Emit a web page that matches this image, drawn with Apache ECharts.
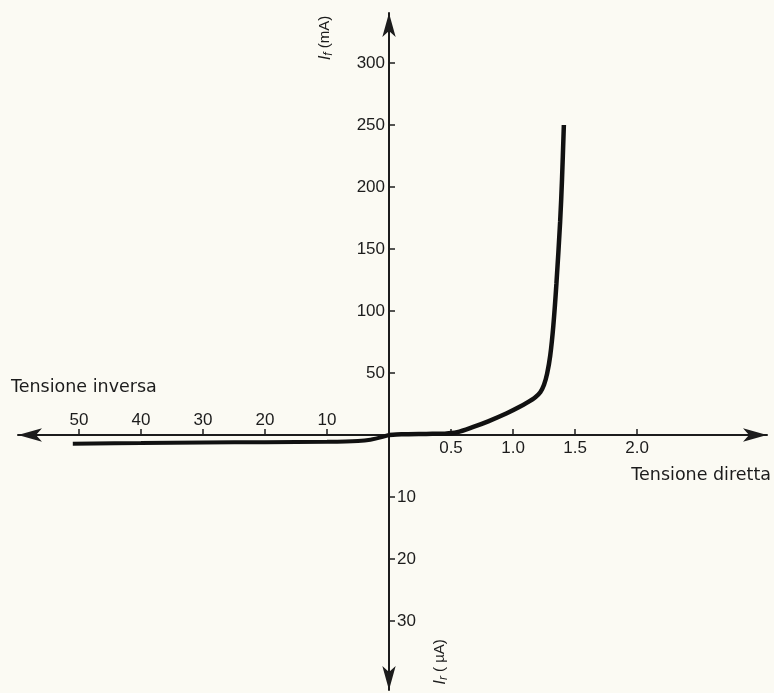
<!DOCTYPE html>
<html>
<head>
<meta charset="utf-8">
<title>Caratteristica del diodo</title>
<script src="https://cdn.jsdelivr.net/npm/echarts@6/dist/echarts.min.js"></script>
<style>
  html, body { margin: 0; padding: 0; background: #fbfaf3; }
  #chart { width: 774px; height: 693px; }
</style>
</head>
<body>
<div id="chart"></div>
<script>
// Forward characteristic: voltage (V) and current (mA)
const forwardVolts = [0, 0.1, 0.3, 0.45, 0.55, 0.68, 0.8, 0.95, 1.05, 1.12, 1.18, 1.22, 1.25, 1.275, 1.3, 1.325, 1.35, 1.38, 1.395, 1.41];
const forwardMilliamps = [0, 0.6, 0.9, 1.1, 2.2, 6.5, 11, 17.5, 22.5, 26.5, 30.5, 34.5, 40.5, 49.5, 64, 88, 122, 172, 206, 250];

// Reverse characteristic: voltage (V) and leakage current (µA)
const reverseVolts = [0, 1, 2, 3, 5, 7, 10, 20, 30, 40, 51];
const reverseMicroamps = [0, 0.3, 0.55, 0.75, 0.95, 1.05, 1.1, 1.15, 1.2, 1.3, 1.4];

// Tick positions for each half-axis
const forwardVoltTicks = [0.5, 1.0, 1.5, 2.0];
const forwardCurrentTicks = [50, 100, 150, 200, 250, 300];
const reverseVoltTicks = [10, 20, 30, 40, 50];
const reverseCurrentTicks = [10, 20, 30];

const ink = '#1c1c1c';
const numberFont = '"Liberation Sans", Arial, sans-serif';
const titleFont = '"DejaVu Sans", sans-serif';

function pairs(xs, ys) {
  return xs.map((x, i) => [x, ys[i]]);
}

// arrowAtStart: the arrow head sits at the axis start (used for inverse axes)
function axisLineStyle(arrowAtStart) {
  return {
    show: true,
    onZero: false,
    symbol: arrowAtStart ? ['arrow', 'none'] : ['none', 'arrow'],
    symbolSize: [10, 24],
    lineStyle: { color: ink, width: 2 }
  };
}

const labelStyle = { color: ink, fontSize: 17, fontFamily: numberFont };

const chart = echarts.init(document.getElementById('chart'), null, { renderer: 'canvas' });

chart.setOption({
  backgroundColor: '#fbfaf3',
  animation: false,
  grid: [
    // forward quadrant (upper right)
    { left: 389, right: 7, top: 13, bottom: 258 },
    // reverse quadrant (lower left)
    { left: 18, right: 385, top: 435, bottom: 3 }
  ],
  xAxis: [
    {
      gridIndex: 0, type: 'value', min: 0, max: 3.048, position: 'bottom',
      axisLine: axisLineStyle(false),
      axisTick: { show: true, inside: true, length: 6, customValues: forwardVoltTicks,
                  lineStyle: { color: ink, width: 1.5 } },
      axisLabel: Object.assign({ customValues: forwardVoltTicks, margin: 5,
                  formatter: v => v.toFixed(1) }, labelStyle),
      splitLine: { show: false }
    },
    {
      gridIndex: 1, type: 'value', min: 0, max: 59.84, inverse: true, position: 'top',
      axisLine: axisLineStyle(true),
      axisTick: { show: true, inside: false, length: 6, customValues: reverseVoltTicks,
                  lineStyle: { color: ink, width: 1.5 } },
      axisLabel: Object.assign({ customValues: reverseVoltTicks, margin: 6 }, labelStyle),
      splitLine: { show: false }
    }
  ],
  yAxis: [
    {
      gridIndex: 0, type: 'value', min: 0, max: 340.3, position: 'left',
      axisLine: axisLineStyle(false),
      axisTick: { show: true, inside: true, length: 6, customValues: forwardCurrentTicks,
                  lineStyle: { color: ink, width: 1.5 } },
      axisLabel: Object.assign({ customValues: forwardCurrentTicks, margin: 4 }, labelStyle),
      splitLine: { show: false }
    },
    {
      gridIndex: 1, type: 'value', min: 0, max: 41.13, inverse: true, position: 'right',
      axisLine: axisLineStyle(true),
      axisTick: { show: true, inside: false, length: 6, customValues: reverseCurrentTicks,
                  lineStyle: { color: ink, width: 1.5 } },
      axisLabel: Object.assign({ customValues: reverseCurrentTicks, margin: 8 }, labelStyle),
      splitLine: { show: false }
    }
  ],
  series: [
    {
      name: 'diretta', type: 'line', xAxisIndex: 0, yAxisIndex: 0,
      data: pairs(forwardVolts, forwardMilliamps),
      smooth: 0.3, showSymbol: false, clip: false,
      lineStyle: { color: '#111', width: 4.5 }
    },
    {
      name: 'inversa', type: 'line', xAxisIndex: 1, yAxisIndex: 1,
      data: pairs(reverseVolts, reverseMicroamps),
      smooth: 0.35, showSymbol: false, clip: false,
      lineStyle: { color: '#111', width: 4 }
    }
  ],
  graphic: [
    {
      type: 'text', x: 11, y: 387,
      style: { text: 'Tensione inversa', font: '17.5px ' + titleFont, fill: ink,
               textAlign: 'left', textVerticalAlign: 'middle' }
    },
    {
      type: 'text', x: 771, y: 475,
      style: { text: 'Tensione diretta', font: '17.5px ' + titleFont, fill: ink,
               textAlign: 'right', textVerticalAlign: 'middle' }
    },
    {
      type: 'text', x: 325, y: 38, rotation: Math.PI / 2,
      style: {
        text: '{i|I}{s|f} (mA)', fill: ink, align: 'center', verticalAlign: 'middle',
        font: '15px ' + numberFont,
        rich: {
          i: { fontStyle: 'italic', fontSize: 17, fontFamily: numberFont, fill: ink },
          s: { fontStyle: 'italic', fontSize: 12, fontFamily: numberFont, fill: ink, padding: [7, 0, 0, 0] }
        }
      }
    },
    {
      type: 'text', x: 440, y: 662, rotation: Math.PI / 2,
      style: {
        text: '{i|I}{s|r} ( µA)', fill: ink, align: 'center', verticalAlign: 'middle',
        font: '15px ' + numberFont,
        rich: {
          i: { fontStyle: 'italic', fontSize: 17, fontFamily: numberFont, fill: ink },
          s: { fontStyle: 'italic', fontSize: 12, fontFamily: numberFont, fill: ink, padding: [7, 0, 0, 0] }
        }
      }
    }
  ]
});
</script>
</body>
</html>
